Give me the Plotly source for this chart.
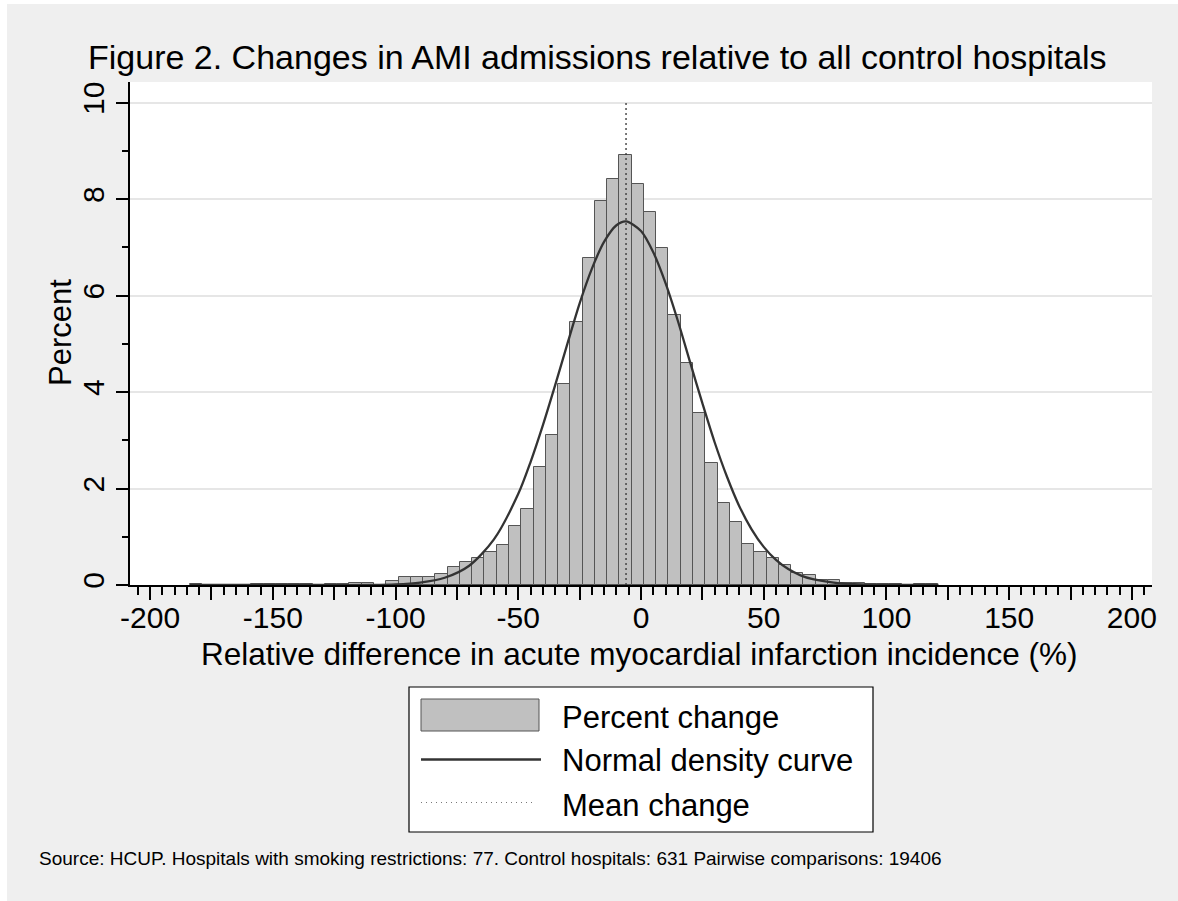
import plotly.graph_objects as go

# ---------------- data ----------------
bin_start = -183.8          # first bin edge (data minimum)
bin_width = 5.0
percent = [0.02, 0, 0, 0, 0, 0.02, 0.02, 0.02, 0.02, 0.02, 0, 0.02, 0.02,
           0.05, 0.05, 0.01, 0.09, 0.17, 0.17, 0.16, 0.23, 0.37, 0.47, 0.57,
           0.68, 0.82, 1.23, 1.57, 2.44, 3.12, 4.16, 5.46, 6.78, 7.97, 8.42,
           8.91, 8.31, 7.74, 6.98, 5.59, 4.60, 3.56, 2.52, 1.71, 1.30, 0.86,
           0.68, 0.55, 0.42, 0.25, 0.21, 0.11, 0.11, 0.04, 0.04, 0.02, 0.02,
           0.02, 0, 0.02, 0.02]

curve_x = [-183.8, -130, -110, -100, -90, -80, -70, -60, -50, -45, -40, -35,
           -30, -25, -20, -15, -10, -6.1, 0, 5, 10, 15, 20, 25, 30, 35, 40,
           45, 50, 55, 60, 65, 70, 80, 90, 100, 121.2]
curve_y = [0.00, 0.00, 0.00, 0.01, 0.05, 0.15, 0.40, 0.94, 1.89, 2.55, 3.31,
           4.14, 5.00, 5.84, 6.56, 7.12, 7.46, 7.54, 7.34, 6.90, 6.26, 5.48,
           4.62, 3.77, 2.96, 2.25, 1.64, 1.16, 0.79, 0.52, 0.33, 0.20, 0.12,
           0.04, 0.01, 0.00, 0.00]

mean_change = -6.1
mean_line_top = 10

x_major_ticks = [-200, -175, -150, -125, -100, -75, -50, -25, 0, 25, 50, 75,
                 100, 125, 150, 175, 200]
x_tick_labels = ["-200", "", "-150", "", "-100", "", "-50", "", "0", "", "50",
                 "", "100", "", "150", "", "200"]
y_major_ticks = [0, 2, 4, 6, 8, 10]

title_text = "Figure 2. Changes in AMI admissions relative to all control hospitals"
x_title = "Relative difference in acute myocardial infarction incidence (%)"
y_title = "Percent"
legend_labels = ["Percent change", "Normal density curve", "Mean change"]
note_text = ("Source: HCUP. Hospitals with smoking restrictions: 77. "
             "Control hospitals: 631 Pairwise comparisons: 19406")

# ---------------- layout geometry ----------------
W, H = 1178, 901
L, R, T, B = 130, 26, 82, 316
PW, PH = W - L - R, H - T - B


def px(x):
    return (x - L) / PW


def py(y):
    return (H - B - y) / PH


FONT = "Liberation Sans, Arial, Helvetica, sans-serif"
BAR_FILL = "#C0C0C0"
BAR_LINE = "#555555"
CURVE = "#333333"
BG = "#EFEFEF"

centers = [bin_start + bin_width * (i + 0.5) for i in range(len(percent))]
bx = [c for c, p in zip(centers, percent) if p > 0]
by = [p for p in percent if p > 0]

fig = go.Figure()
fig.add_trace(go.Bar(
    x=bx, y=by, width=bin_width,
    marker=dict(color=BAR_FILL, line=dict(color=BAR_LINE, width=1)),
    showlegend=False, hoverinfo="x+y"))
fig.add_trace(go.Scatter(
    x=curve_x, y=curve_y, mode="lines",
    line=dict(color=CURVE, width=2.3, shape="spline", smoothing=0.8),
    showlegend=False))
fig.add_trace(go.Scatter(
    x=[mean_change, mean_change], y=[0, mean_line_top], mode="lines",
    line=dict(color="#333333", width=1.3, dash="2px,3px"),
    showlegend=False))

fig.update_layout(
    width=W, height=H,
    margin=dict(l=L, r=R, t=T, b=B),
    paper_bgcolor=BG, plot_bgcolor="white",
    font=dict(family=FONT, color="black"),
    bargap=0, showlegend=False,
    xaxis=dict(
        range=[-208.2, 208.2], tickmode="array", tickvals=x_major_ticks,
        ticktext=x_tick_labels, ticks="outside", ticklen=13, tickwidth=1.5,
        tickcolor="black", showline=True, linecolor="black", linewidth=1.5,
        showgrid=False, zeroline=False, tickfont=dict(size=30, family=FONT),
        ticklabelstandoff=-8,
        minor=dict(dtick=5, tick0=0, ticks="outside", ticklen=8,
                   tickwidth=1.5, tickcolor="black", showgrid=False),
    ),
    yaxis=dict(
        range=[0, 10.43], tickmode="array", tickvals=y_major_ticks,
        ticks="outside", ticklen=12, tickwidth=1.5, tickcolor="black",
        showline=True, linecolor="black", linewidth=1.5,
        showgrid=True, gridcolor="#E6E6E6", gridwidth=1.5, zeroline=False,
        tickangle=-90, tickfont=dict(size=30, family=FONT),
        minor=dict(dtick=1, tick0=0, ticks="outside", ticklen=6,
                   tickwidth=1.5, tickcolor="black", showgrid=False),
    ),
)

shapes = [
    # white strips at the top and left of the image
    dict(type="rect", xref="paper", yref="paper", x0=px(0), x1=px(7),
         y0=py(H), y1=py(0), fillcolor="white", line=dict(width=0), layer="below"),
    dict(type="rect", xref="paper", yref="paper", x0=px(0), x1=px(W),
         y0=py(4), y1=py(0), fillcolor="white", line=dict(width=0), layer="below"),
    # legend box
    dict(type="rect", xref="paper", yref="paper", x0=px(409), x1=px(873),
         y0=py(832), y1=py(687), fillcolor="white",
         line=dict(color="black", width=1.2)),
    dict(type="rect", xref="paper", yref="paper", x0=px(421), x1=px(539),
         y0=py(731), y1=py(699), fillcolor=BAR_FILL,
         line=dict(color=BAR_LINE, width=1)),
    dict(type="line", xref="paper", yref="paper", x0=px(421), x1=px(541),
         y0=py(759.5), y1=py(759.5), line=dict(color=CURVE, width=2.3)),
    dict(type="line", xref="paper", yref="paper", x0=px(421), x1=px(535),
         y0=py(802.5), y1=py(802.5),
         line=dict(color="#777777", width=1, dash="1px,4px")),
]
fig.update_layout(shapes=shapes)

ann = [
    dict(text=title_text, x=px(597), y=py(57), xref="paper", yref="paper",
         xanchor="center", yanchor="middle", showarrow=False,
         font=dict(size=34, family=FONT, color="black")),
    dict(text=x_title, x=px(639), y=py(654), xref="paper", yref="paper",
         xanchor="center", yanchor="middle", showarrow=False,
         font=dict(size=31.5, family=FONT, color="black")),
    dict(text=y_title, x=px(60), y=py(333), xref="paper", yref="paper",
         xanchor="center", yanchor="middle", showarrow=False, textangle=-90,
         font=dict(size=31, family=FONT, color="black")),
    dict(text=note_text, x=px(37), y=py(858), xref="paper", yref="paper",
         xanchor="left", yanchor="middle", showarrow=False,
         font=dict(size=19, family=FONT, color="black")),
]
for lab, yc in zip(legend_labels, [717, 760.5, 805]):
    ann.append(dict(text=lab, x=px(560), y=py(yc), xref="paper", yref="paper",
                    xanchor="left", yanchor="middle", showarrow=False,
                    font=dict(size=31, family=FONT, color="black")))
fig.update_layout(annotations=ann)

fig.write_html("out.html")
